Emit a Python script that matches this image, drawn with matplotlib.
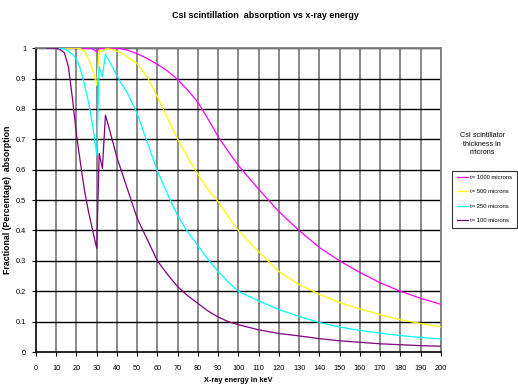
import numpy as np
import matplotlib
matplotlib.use('Agg')
import matplotlib.pyplot as plt

plt.rcParams['font.family'] = ['Liberation Sans', 'DejaVu Sans']

# X-ray energy (keV)
energy = [5, 10, 12, 14, 16, 18, 20, 22, 24, 26, 28, 30, 31.2, 32.8, 34.3,
          36, 38, 40, 42, 45, 50, 55, 60, 65, 70, 75, 80, 85, 90, 95, 100,
          110, 120, 130, 140, 150, 160, 170, 180, 190, 200]

# fractional absorption per thickness
t1000 = [1, 1, 1, 1, 1, 1, 1, 1, 1, 1, 0.998, 0.988, 1, 0.999, 1,
         1, 1, 1, 0.998, 0.994, 0.982, 0.966, 0.947, 0.925, 0.897, 0.862, 0.822, 0.767, 0.709, 0.66, 0.614,
         0.536, 0.462, 0.40, 0.344, 0.30, 0.262, 0.228, 0.20, 0.177, 0.157]
t500 = [1, 1, 1, 1, 1, 1, 1, 0.998, 0.99, 0.965, 0.93, 0.878, 0.993, 0.988, 0.998,
        0.998, 0.995, 0.99, 0.985, 0.972, 0.95, 0.905, 0.84, 0.77, 0.70, 0.64, 0.585, 0.535, 0.495, 0.445, 0.40,
        0.33, 0.265, 0.222, 0.19, 0.163, 0.142, 0.123, 0.106, 0.094, 0.083]
t250 = [1, 1, 1, 0.998, 0.99, 0.98, 0.965, 0.93, 0.88, 0.82, 0.745, 0.648, 0.94, 0.906, 0.98,
        0.96, 0.935, 0.91, 0.885, 0.855, 0.785, 0.69, 0.595, 0.52, 0.448, 0.395, 0.35, 0.305, 0.265, 0.23, 0.20,
        0.168, 0.14, 0.117, 0.097, 0.082, 0.071, 0.062, 0.054, 0.048, 0.043]
t100 = [1, 1, 0.995, 0.985, 0.94, 0.835, 0.715, 0.62, 0.53, 0.46, 0.40, 0.341, 0.654, 0.604, 0.78,
        0.74, 0.69, 0.64, 0.60, 0.54, 0.44, 0.37, 0.30, 0.255, 0.215, 0.185, 0.16, 0.135, 0.115, 0.10, 0.09,
        0.073, 0.061, 0.053, 0.044, 0.037, 0.032, 0.027, 0.024, 0.021, 0.019]

series = [(t1000, '#FF00FF', 't= 1000 microns'),
          (t500, '#FFFF00', 't= 500 microns'),
          (t250, '#00FFFF', 't= 250 microns'),
          (t100, '#800080', 't= 100 microns')]

fig = plt.figure(figsize=(5.18, 3.85), dpi=100)
ax = fig.add_axes([0.0695, 0.0857, 0.7815, 0.789])

# grid: grey verticals, black horizontals
for xv in range(10, 201, 10):
    ax.axvline(xv, color='#808080', lw=1.3, zorder=1)
for yv in np.arange(0.1, 1.01, 0.1):
    ax.axhline(yv, color='#000000', lw=1.0, zorder=1)

lines = []
for vals, col, lab in series:
    ln, = ax.plot(energy, vals, color=col, lw=0.9, label=lab, zorder=3)
    lines.append(ln)

ax.set_xlim(0, 200)
ax.set_ylim(0, 1)
ax.set_xticks(range(0, 201, 10))
ax.set_yticks([0, 0.1, 0.2, 0.3, 0.4, 0.5, 0.6, 0.7, 0.8, 0.9, 1])
ax.set_yticklabels(['0', '0.1', '0.2', '0.3', '0.4', '0.5', '0.6', '0.7', '0.8', '0.9', '1'])
ax.tick_params(axis='both', labelsize=5.3, length=3, width=0.8, colors='#000000')
ax.tick_params(axis='x', pad=6)
ax.tick_params(axis='y', pad=4)
for s in ['top', 'right']:
    ax.spines[s].set_color('#808080')
    ax.spines[s].set_linewidth(1.3)
for s in ['left', 'bottom']:
    ax.spines[s].set_color('#000000')
    ax.spines[s].set_linewidth(1.2)

fig.text(0.513, 0.96, 'CsI scintillation  absorption vs x-ray energy',
         ha='center', va='center', fontsize=6.5, fontweight='bold')
ax.set_xlabel('X-ray energy in keV', fontsize=5.3, fontweight='bold', labelpad=4)
ax.set_ylabel('Fractional (Percentage)  absorption', fontsize=6.3, fontweight='bold', labelpad=3)

fig.text(0.931, 0.625, 'CsI scintillator\nthickness in\nmicrons', ha='center', va='center',
         fontsize=5.2, linespacing=1.3)

leg = fig.legend(handles=lines, loc='upper left', bbox_to_anchor=(0.873, 0.557),
                 fontsize=4.2, frameon=True, fancybox=False, edgecolor='#000000',
                 handlelength=2.0, handletextpad=0.35, labelspacing=1.6, borderpad=0.75,
                 borderaxespad=0)
leg.get_frame().set_linewidth(0.8)

plt.savefig('out.png', dpi=100)
